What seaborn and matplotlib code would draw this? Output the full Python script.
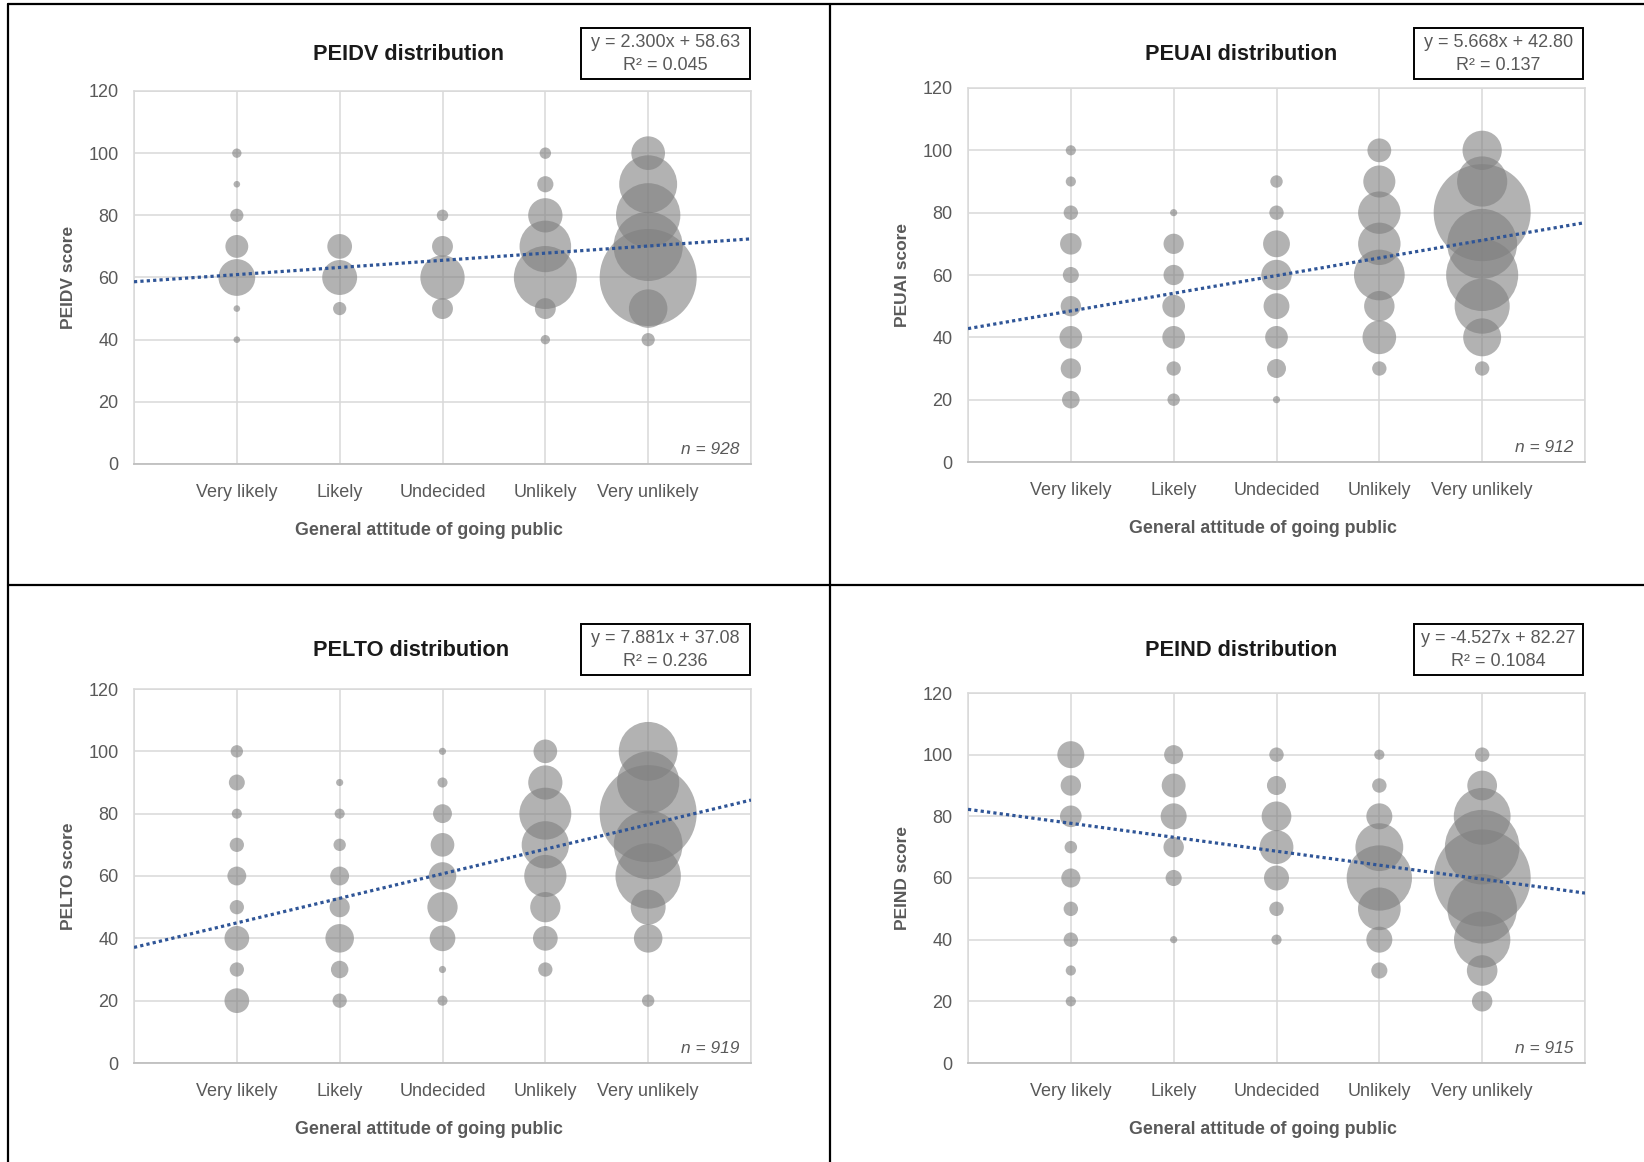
import numpy as np
import pandas as pd
import matplotlib.pyplot as plt
from matplotlib.lines import Line2D
from matplotlib.patches import Rectangle
import seaborn as sns

sns.set_style('white')
plt.rcParams['font.family'] = ['Liberation Sans', 'DejaVu Sans']

categories = ['Very likely', 'Likely', 'Undecided', 'Unlikely', 'Very unlikely']

# scores present per attitude category and the number of respondents (bubble size)
peidv_scores = [[100, 90, 80, 70, 60, 50, 40],
                [70, 60, 50],
                [80, 70, 60, 50],
                [100, 90, 80, 70, 60, 50, 40],
                [100, 90, 80, 70, 60, 50, 40]]
peidv_counts = [[2, 1, 4, 12, 31, 1, 1],
                [14, 28, 4],
                [3, 10, 45, 10],
                [3, 6, 27, 61, 91, 10, 2],
                [26, 77, 95, 110, 216, 34, 4]]

peuai_scores = [[100, 90, 80, 70, 60, 50, 40, 30, 20],
                [80, 70, 60, 50, 40, 30, 20],
                [90, 80, 70, 60, 50, 40, 30, 20],
                [100, 90, 80, 70, 60, 50, 40, 30],
                [100, 90, 80, 70, 60, 50, 40, 30]]
peuai_counts = [[2, 2, 4, 9, 5, 8, 10, 8, 6],
                [1, 8, 8, 10, 10, 4, 3],
                [3, 4, 14, 18, 13, 10, 7, 1],
                [11, 20, 35, 35, 50, 18, 22, 4],
                [30, 49, 183, 95, 101, 59, 28, 4]]

pelto_scores = [[100, 90, 80, 70, 60, 50, 40, 30, 20],
                [90, 80, 70, 60, 50, 40, 30, 20],
                [100, 90, 80, 70, 60, 50, 40, 30, 20],
                [100, 90, 80, 70, 60, 50, 40, 30],
                [100, 90, 80, 70, 60, 50, 40, 20]]
pelto_counts = [[3, 5, 2, 4, 7, 4, 12, 4, 12],
                [1, 2, 3, 7, 8, 16, 6, 4],
                [1, 2, 7, 11, 15, 18, 13, 1, 2],
                [11, 23, 53, 44, 35, 18, 12, 4],
                [68, 76, 185, 93, 84, 24, 16, 3]]

peind_scores = [[100, 90, 80, 70, 60, 50, 40, 30, 20],
                [100, 90, 80, 70, 60, 40],
                [100, 90, 80, 70, 60, 50, 40],
                [100, 90, 80, 70, 60, 50, 40, 30],
                [100, 90, 80, 70, 60, 50, 40, 30, 20]]
peind_counts = [[14, 8, 9, 3, 7, 4, 4, 2, 2],
                [7, 11, 13, 8, 5, 1],
                [4, 7, 17, 22, 12, 4, 2],
                [2, 4, 13, 44, 82, 35, 13, 5],
                [4, 17, 62, 107, 181, 93, 61, 18, 8]]

names = ['PEIDV', 'PEUAI', 'PELTO', 'PEIND']
sample_sizes = [928, 912, 919, 915]
slopes = [2.300, 5.668, 7.881, -4.527]
intercepts = [58.63, 42.80, 37.08, 82.27]
eq_lines = ['y = 2.300x + 58.63', 'y = 5.668x + 42.80',
            'y = 7.881x + 37.08', 'y = -4.527x + 82.27']
r2_lines = ['R² = 0.045', 'R² = 0.137', 'R² = 0.236', 'R² = 0.1084']
all_scores = [peidv_scores, peuai_scores, pelto_scores, peind_scores]
all_counts = [peidv_counts, peuai_counts, pelto_counts, peind_counts]


def bubble_frame(scores, counts):
    rows = []
    for i, (sc, ct) in enumerate(zip(scores, counts)):
        for s, c in zip(sc, ct):
            rows.append((i + 1, s, c))
    return pd.DataFrame(rows, columns=['attitude', 'score', 'count'])


W, H = 1644, 1162
fig = plt.figure(figsize=(W / 100, H / 100), dpi=100)

# axes boxes in pixels: left, top, right, bottom
boxes = [(134, 91, 751, 464), (968, 88, 1585, 462),
         (134, 689, 751, 1063), (968, 693, 1585, 1063)]
title_pix = [(408, 55), (1241, 55), (411, 651), (1241, 651)]
eqbox_pix = [(581, 28), (1414, 28), (581, 624), (1414, 624)]  # left, top
eqbox_w, eqbox_h = 169, 51

grey = '#595959'
max_area = (97 * 0.72) ** 2  # largest bubble about 97 px wide


def fx(px):
    return px / W


def fy(py):
    return 1 - py / H


for k in range(4):
    l, t, r, b = boxes[k]
    ax = fig.add_axes([l / W, 1 - b / H, (r - l) / W, (b - t) / H])
    df = bubble_frame(all_scores[k], all_counts[k])
    sns.scatterplot(data=df, x='attitude', y='score', size='count',
                    sizes=(0, max_area), size_norm=(0, df['count'].max()),
                    color='#7f7f7f', alpha=0.6, linewidth=0, legend=False,
                    ax=ax, zorder=3)
    xs = np.array([0, 6])
    ax.plot(xs, slopes[k] * xs + intercepts[k], color='#2f5597', lw=2.3,
            linestyle=(0, (1, 1)), dash_capstyle='butt', zorder=4)

    ax.set_xlim(0, 6)
    ax.set_ylim(0, 120)
    ax.set_xticks(range(7))
    ax.set_xticklabels([''] + categories + [''])
    ax.set_yticks(range(0, 121, 20))
    ax.grid(True, color='#d9d9d9', lw=1.1, zorder=0)
    ax.set_axisbelow(True)
    for side in ['left', 'right', 'top']:
        ax.spines[side].set_color('#d9d9d9')
        ax.spines[side].set_linewidth(1.1)
    ax.spines['bottom'].set_color('#bfbfbf')
    ax.spines['bottom'].set_linewidth(1.3)
    ax.tick_params(axis='both', length=0, labelsize=13, labelcolor=grey)
    ax.tick_params(axis='x', pad=14.5)
    ax.tick_params(axis='y', pad=11)

    ax.set_xlabel('General attitude of going public', fontsize=12.8,
                  fontweight='bold', color=grey)
    ax.xaxis.set_label_coords(0.478, -0.156)
    ax.set_ylabel(names[k] + ' score', fontsize=12.5, fontweight='bold',
                  color=grey)
    ax.yaxis.set_label_coords(-0.094, 0.5)

    ax.text(0.981, 0.04, 'n = %d' % sample_sizes[k], transform=ax.transAxes,
            ha='right', va='center', fontsize=12.5, fontstyle='italic',
            color=grey)

    # title and trendline equation box
    tx, ty = title_pix[k]
    fig.text(fx(tx), fy(ty), names[k] + ' distribution', ha='center',
             va='center', fontsize=15.7, fontweight='bold', color='#1a1a1a')
    bx, by = eqbox_pix[k]
    fig.add_artist(Rectangle((fx(bx), fy(by + eqbox_h)), eqbox_w / W,
                             eqbox_h / H, transform=fig.transFigure,
                             fc='white', ec='black', lw=1.4))
    cx = bx + eqbox_w / 2
    fig.text(fx(cx), fy(by + 14.5), eq_lines[k], ha='center', va='center',
             fontsize=13, color=grey)
    fig.text(fx(cx), fy(by + 37), r2_lines[k], ha='center', va='center',
             fontsize=13, color=grey)

# panel frame lines
x_left = 7.5 / W
frame = dict(color='black', lw=1.6, transform=fig.transFigure)
fig.add_artist(Line2D([x_left, 1], [fy(4), fy(4)], **frame))
fig.add_artist(Line2D([x_left, x_left], [0, fy(4)], **frame))
fig.add_artist(Line2D([fx(830), fx(830)], [0, fy(4)], **frame))
fig.add_artist(Line2D([x_left, 1], [fy(585), fy(585)], **frame))

fig.savefig('out.png', dpi=100, facecolor='white')
